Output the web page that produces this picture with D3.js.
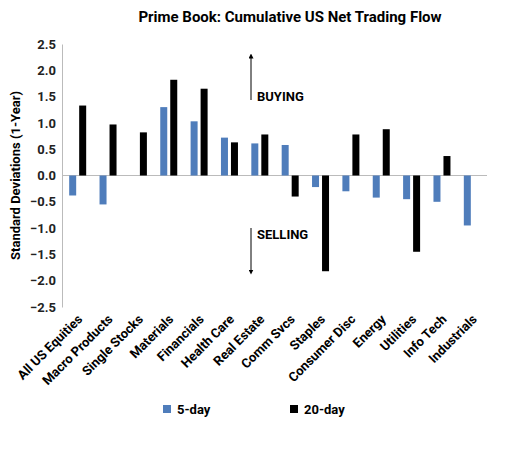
<!DOCTYPE html><html><head><meta charset="utf-8"><script src="https://cdn.jsdelivr.net/npm/d3@7"></script>
<style>body{margin:0;background:#fff}text{font-family:Roboto,Arial,sans-serif}</style></head><body><svg id="c" width="520" height="453"></svg>
<script>
const categories=["All US Equities","Macro Products","Single Stocks","Materials","Financials","Health Care","Real Estate","Comm Svcs","Staples","Consumer Disc","Energy","Utilities","Info Tech","Industrials"];
const fiveDay=[-0.38,-0.55,0.0,1.30,1.03,0.72,0.61,0.58,-0.22,-0.30,-0.42,-0.45,-0.50,-0.95];
const twentyDay=[1.33,0.97,0.82,1.82,1.65,0.63,0.78,-0.40,-1.82,0.78,0.88,-1.45,0.37,0.0];
const yTicks=[2.5,2.0,1.5,1.0,0.5,0.0,-0.5,-1.0,-1.5,-2.0,-2.5];
const svg=d3.select("#c");
const L=62,R=487,T=44,B=307;
const x=d3.scaleBand().domain(categories).range([L,R]);
const y=d3.scaleLinear().domain([-2.5,2.5]).range([B,T]);
const bw=7;
svg.append("text").attr("x",290).attr("y",22).attr("text-anchor","middle").attr("font-size",15).attr("font-weight","bold").text("Prime Book: Cumulative US Net Trading Flow");
const ya=svg.append("g").attr("transform",`translate(${L},0)`).call(d3.axisLeft(y).tickValues(yTicks).tickFormat(d3.format(".1f")).tickSize(0).tickPadding(6));
ya.select(".domain").attr("stroke","#bbb");
ya.selectAll("text").attr("font-size",13).attr("font-weight","bold").attr("fill","#222").style("font-family","Roboto");
svg.append("text").attr("transform",`translate(20,${(T+B)/2}) rotate(-90)`).attr("text-anchor","middle").attr("font-size",13).attr("font-weight","bold").text("Standard Deviations (1-Year)");
svg.append("line").attr("x1",L).attr("x2",R).attr("y1",y(0)).attr("y2",y(0)).attr("stroke","#bbb");
const c=x.bandwidth()/2;
svg.selectAll(".b5").data(fiveDay).join("rect").attr("x",(d,i)=>x(categories[i])+c-bw-1).attr("width",bw).attr("y",d=>y(Math.max(0,d))).attr("height",d=>Math.abs(y(d)-y(0))).attr("fill","#4f7dbb");
svg.selectAll(".b20").data(twentyDay).join("rect").attr("x",(d,i)=>x(categories[i])+c+2).attr("width",bw).attr("y",d=>y(Math.max(0,d))).attr("height",d=>Math.abs(y(d)-y(0))).attr("fill","#000");
categories.forEach(cat=>{svg.append("text").attr("transform",`translate(${x(cat)+c+6},${y(-2.5)+13}) rotate(-45)`).attr("text-anchor","end").attr("font-size",13).attr("font-weight","bold").text(cat);});
const defs=svg.append("defs");
defs.append("marker").attr("id","ah").attr("viewBox","0 0 10 10").attr("refX",5).attr("refY",5).attr("markerWidth",5).attr("markerHeight",5).attr("orient","auto").append("path").attr("d","M0,0L10,5L0,10z").attr("fill","#000");
svg.append("line").attr("x1",251).attr("x2",251).attr("y1",100).attr("y2",56).attr("stroke","#000").attr("marker-end","url(#ah)");
svg.append("line").attr("x1",251).attr("x2",251).attr("y1",228).attr("y2",272).attr("stroke","#000").attr("marker-end","url(#ah)");
svg.append("text").attr("x",257).attr("y",101).attr("font-size",13).attr("font-weight","bold").text("BUYING");
svg.append("text").attr("x",257).attr("y",239).attr("font-size",13).attr("font-weight","bold").text("SELLING");
[["5-day","#4f7dbb",163],["20-day","#000",290]].forEach(([t,col,lx])=>{svg.append("rect").attr("x",lx).attr("y",405).attr("width",8).attr("height",8).attr("fill",col);svg.append("text").attr("x",lx+14).attr("y",414).attr("font-size",13).attr("font-weight","bold").text(t);});
</script></body></html>
